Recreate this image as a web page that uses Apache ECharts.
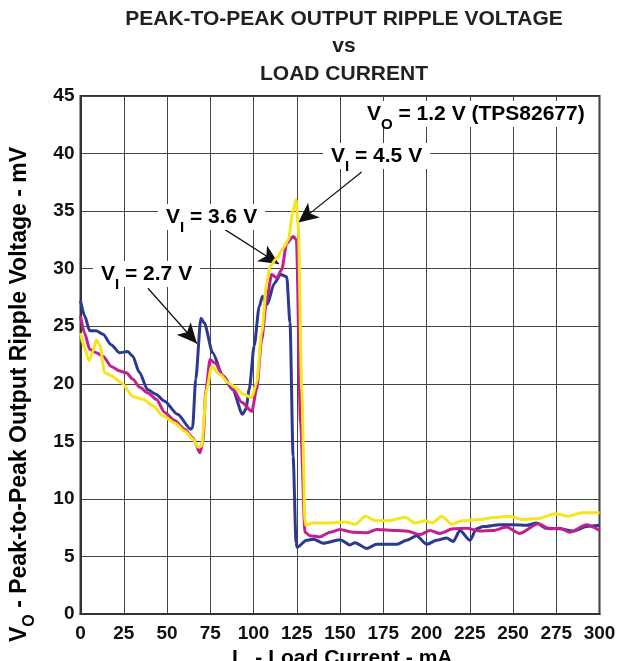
<!DOCTYPE html>
<html>
<head>
<meta charset="utf-8">
<script src="https://cdn.jsdelivr.net/npm/echarts@6/dist/echarts.min.js"></script>
<style>
html,body{margin:0;padding:0;background:#fff;}
#chart{width:628px;height:661px;}
</style>
</head>
<body>
<div id="chart"></div>
<script>
const titleLines = ['PEAK-TO-PEAK OUTPUT RIPPLE VOLTAGE', 'vs', 'LOAD CURRENT'];
const xTicks = [0, 25, 50, 75, 100, 125, 150, 175, 200, 225, 250, 275, 300];
const yTicks = [0, 5, 10, 15, 20, 25, 30, 35, 40, 45];
const seriesNames = ['VI = 2.7 V', 'VI = 3.6 V', 'VI = 4.5 V'];

const vi27 = [[0,27.2],[2.4,25.9],[5.3,24.6],[9,24.6],[13,24.3],[17.7,23.4],[22.5,22.7],[27.3,22.8],[30.2,22.4],[34,21.0],[38.8,19.5],[43.6,19.1],[48.4,18.5],[56.1,17.35],[63.8,16.05],[64.8,16.2],[66.6,20.4],[69.6,25.7],[71.5,25.3],[76.4,22.7],[82.2,20.7],[87.9,19.5],[93.7,17.35],[95.6,17.8],[97.5,19.5],[100.4,23.3],[103.3,26.7],[105.2,27.6],[108,26.9],[111.9,28.7],[115.7,29.5],[119.2,29.3],[121.1,25.3],[122.9,13.7],[124.6,6.25],[125.2,5.8],[130.7,6.4],[134.6,6.5],[140.4,6.15],[150,6.45],[155.8,6.0],[158.7,6.2],[165.4,5.7],[171.2,6.05],[182.7,6.05],[188.5,6.4],[194.3,6.8],[200.1,6.05],[205.8,6.4],[211.6,6.6],[215.4,6.3],[219.3,7.25],[225.1,6.4],[228.9,7.4],[232.8,7.6],[242.4,7.75],[250.1,7.75],[257.8,7.7],[263.6,7.9],[269.4,7.45],[277.1,7.4],[284.8,7.2],[292.5,7.6],[300,7.7]];

const vi36 = [[0,25.9],[2.4,24.4],[5.3,23.0],[9.1,22.7],[13,22.4],[17.8,21.5],[22.7,21.1],[26.5,20.95],[30.3,20.4],[34.2,19.7],[39,19.2],[43.8,18.65],[48.7,17.5],[54.4,16.8],[60.2,16.05],[65,15.3],[69,14.0],[70.8,15.0],[72.5,19.5],[74.9,22.1],[77.7,21.8],[82.5,20.7],[88.3,19.5],[93.2,18.4],[99,17.6],[101.8,19.5],[104.7,23.8],[107.6,27.3],[110.5,29.5],[113.4,29.2],[116.3,29.9],[119.2,32.2],[123,32.8],[124.8,32.5],[127.2,16.6],[129.8,7.1],[132.6,6.8],[138.4,6.7],[144.2,7.1],[150,7.35],[157.7,7.1],[165.4,7.05],[171.2,7.35],[182.7,7.25],[188.5,7.2],[196.2,6.9],[202,7.25],[207.8,7.0],[215.4,7.4],[223.1,7.45],[230.8,7.2],[238.5,7.25],[246.2,7.55],[253.9,7.0],[264.5,7.85],[271.2,7.4],[277.1,7.45],[282.8,7.1],[292.5,7.75],[300,7.25]];

const vi45 = [[0,24.4],[2.4,23.1],[4.9,22.0],[7.2,22.8],[9.1,23.8],[11.1,23.4],[14,20.95],[17.8,20.7],[23.6,20.1],[30.3,18.9],[36.1,18.65],[41.9,18.1],[47.7,17.2],[54.4,16.6],[60.2,15.9],[65,15.2],[67.9,14.5],[70,14.6],[72.9,19.5],[75.8,21.5],[80.6,20.8],[85.4,20.1],[89.3,19.7],[94.1,19.1],[98.9,18.8],[101.8,20.1],[104.7,24.4],[107.6,28.7],[109.5,30.2],[113.4,30.9],[117.2,31.8],[120.1,32.5],[123,35.1],[124.6,36.0],[125.9,33.6],[127.9,19.5],[129.8,8.0],[130.3,7.7],[133.9,7.9],[143.5,7.9],[153.1,8.0],[158.9,7.8],[164.6,8.5],[170.4,8.1],[178.1,8.1],[187.7,8.4],[193.5,7.9],[199.3,8.1],[203.2,7.9],[208.9,8.5],[214.7,7.8],[220.5,8.1],[230.1,8.2],[239.8,8.4],[248.4,8.5],[255.2,8.2],[264.8,8.3],[274.4,8.7],[282.1,8.5],[289.8,8.8],[300,8.8]];

// annotation arrows: [start, tip] in data units
const arrows = [
  [[162.5,38.4],[125.9,34.0]],
  [[82.4,33.5],[114.7,30.4]],
  [[39.0,28.3],[67.3,23.5]]
];

const FONT = '"Liberation Sans", Arial, Helvetica, sans-serif';
const TXT = '#231F20';
const colors = ['#2B3990', '#C2208E', '#F5E51B'];

function richStyles(size, sub) {
  return {
    a: {fontSize: size, fontWeight: 'bold', fontFamily: FONT, color: TXT, verticalAlign: 'top', lineHeight: size + 2},
    s: {fontSize: sub, fontWeight: 'bold', fontFamily: FONT, color: TXT, verticalAlign: 'top', lineHeight: sub, padding: [Math.round(size * 0.62), 0, 0, 0]}
  };
}

const chart = echarts.init(document.getElementById('chart'), null, {renderer: 'canvas'});

const lineSeries = [vi27, vi36, vi45].map((d, i) => ({
  name: seriesNames[i],
  type: 'line',
  data: d,
  showSymbol: false,
  smooth: 0.25,
  smoothMonotone: 'x',
  lineStyle: {color: colors[i], width: 3},
  itemStyle: {color: colors[i]},
  z: 3 + i,
  emphasis: {disabled: true}
}));

lineSeries.push({
  type: 'line',
  data: [],
  z: 10,
  markLine: {
    silent: true,
    animation: false,
    symbol: ['none', 'arrow'],
    symbolSize: [14, 20],
    label: {show: false},
    lineStyle: {color: '#111', width: 1.2, type: 'solid'},
    emphasis: {disabled: true},
    data: arrows.map(a => [{coord: a[0]}, {coord: a[1]}])
  }
});

function annot(x, y, text) {
  return {
    type: 'text', left: x, top: y, z: 20,
    style: {
      text: text,
      rich: richStyles(21, 15),
      backgroundColor: '#fff',
      padding: [3, 8, 0, 8]
    }
  };
}

function titleText(i, y) {
  return {type: 'text', x: 344, y: y, z: 20,
    style: {text: titleLines[i], fontSize: 21, fontWeight: 'bold', fontFamily: FONT, fill: TXT, textAlign: 'center', textVerticalAlign: 'middle'}};
}

const option = {
  animation: false,
  backgroundColor: '#fff',
  grid: {left: 80.5, right: 28.5, top: 96, bottom: 47, show: true, borderColor: '#333', borderWidth: 2, backgroundColor: 'transparent'},
  xAxis: {
    type: 'value', min: 0, max: 300, interval: 25,
    axisLine: {show: true, lineStyle: {color: '#333', width: 2}},
    axisTick: {show: false},
    splitLine: {show: true, lineStyle: {color: '#444', width: 1}},
    axisLabel: {color: '#111', fontSize: 19, fontWeight: 'bold', fontFamily: FONT, margin: 10,
      formatter: v => (xTicks.indexOf(v) >= 0 ? String(v) : '')}
  },
  yAxis: {
    type: 'value', min: 0, max: 45, interval: 5,
    axisLine: {show: true, lineStyle: {color: '#333', width: 2}},
    axisTick: {show: false},
    splitLine: {show: true, lineStyle: {color: '#444', width: 1}},
    axisLabel: {color: '#111', fontSize: 19, fontWeight: 'bold', fontFamily: FONT, margin: 6,
      formatter: v => (yTicks.indexOf(v) >= 0 ? String(v) : '')}
  },
  series: lineSeries,
  graphic: [
    titleText(0, 19),
    titleText(1, 46),
    titleText(2, 74),
    annot(359, 101, '{a|V}{s|O}{a| = 1.2 V (TPS82677)}'),
    annot(323, 143, '{a|V}{s|I}{a| = 4.5 V}'),
    annot(158, 204, '{a|V}{s|I}{a| = 3.6 V}'),
    annot(93, 261, '{a|V}{s|I}{a| = 2.7 V}'),
    {
      type: 'text', x: 8, y: 642, rotation: Math.PI / 2, z: 20,
      style: {text: '{a|V}{s|O}{a| - Peak-to-Peak Output Ripple Voltage - mV}', rich: richStyles(23, 16)}
    },
    {
      type: 'text', left: 232, top: 648, z: 20,
      style: {text: '{a|I}{s|O}{a| - Load Current - mA}', rich: richStyles(21, 15)}
    }
  ]
};
chart.setOption(option);
</script>
</body>
</html>
